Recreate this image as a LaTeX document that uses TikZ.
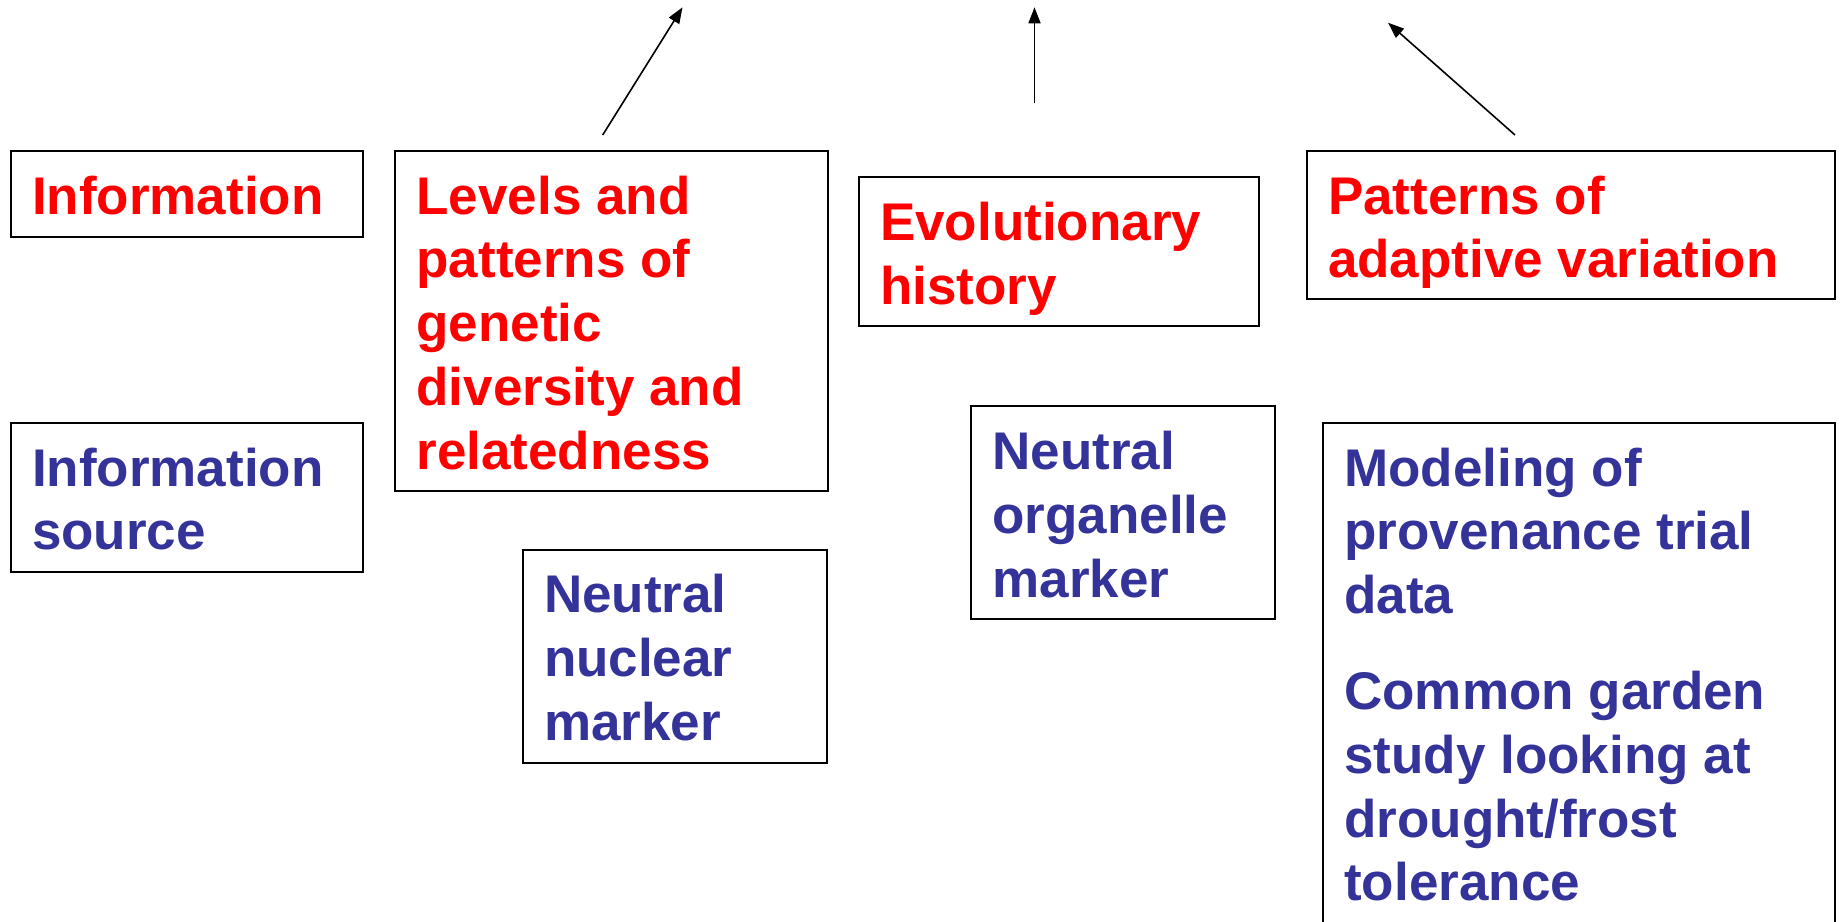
\documentclass[tikz,border=0pt]{standalone}
\usepackage{fontspec}
\setmainfont{Liberation Sans}
\usetikzlibrary{arrows.meta}
\definecolor{tred}{RGB}{255,0,0}
\definecolor{tblue}{RGB}{51,51,153}
\tikzset{
  box/.style={draw=black, line width=2pt, anchor=north west, inner sep=0pt, outer sep=0pt},
  txt/.style={anchor=north west, inner sep=0pt, outer sep=0pt, align=left, font=\fontsize{53}{63.8}\selectfont\bfseries},
  redtxt/.style={txt, text=tred},
  bluetxt/.style={txt, text=tblue},
  arr/.style={line width=1.6pt, -{Triangle[length=16pt,width=12pt]}}
}
\newcommand{\tstrut}{\rule{0pt}{40pt}}
\begin{document}
\begin{tikzpicture}[x=1pt,y=-1pt]
\useasboundingbox (0,0) rectangle (1841,921);
\fill[white] (0,0) rectangle (1841,921);
\clip (0,0) rectangle (1841,921);
% boxes
\node[box, minimum width=352.1pt, minimum height=86pt] (b1) at (10.6,150.7) {};
\node[box, minimum width=432.5pt, minimum height=340.1pt] (b2) at (395,150.7) {};
\node[box, minimum width=400.3pt, minimum height=149.1pt] (b3) at (858.6,177.3) {};
\node[box, minimum width=528pt, minimum height=148.7pt] (b4) at (1306.5,150.7) {};
\node[box, minimum width=352.1pt, minimum height=149.1pt] (b5) at (10.6,422.7) {};
\node[box, minimum width=304.1pt, minimum height=213.7pt] (b6) at (522.5,549.5) {};
\node[box, minimum width=304pt, minimum height=212.6pt] (b7) at (971,406.2) {};
\node[box, minimum width=512pt, minimum height=540pt] (b8) at (1322.8,422.7) {};
% texts
\node[redtxt] (t1) at (32.1,174) {\tstrut Information};
\node[redtxt] (t2) at (416.5,174) {\tstrut Levels and\\patterns of\\genetic\\diversity and\\relatedness};
\node[redtxt] (t3) at (880.1,200.6) {\tstrut Evolutionary\\history};
\node[redtxt] (t4) at (1328,174) {\tstrut Patterns of\\adaptive variation};
\node[bluetxt] (t5) at (32.1,446) {\tstrut Information\\source};
\node[bluetxt] (t6) at (544,572.8) {\tstrut Neutral\\nuclear\\marker};
\node[bluetxt] (t7) at (992.5,429.5) {\tstrut Neutral\\organelle\\marker};
\node[bluetxt] (t8) at (1344.3,446) {\tstrut Modeling of\\provenance trial\\data\\[32pt]Common garden\\study looking at\\drought/frost\\tolerance};
% arrows
\coordinate (a1s) at (602.7,135);
\coordinate (a1e) at (682.5,7.3);
\coordinate (a2s) at (1034.5,103.3);
\coordinate (a2e) at (1034.5,7.3);
\coordinate (a3s) at (1515,135);
\coordinate (a3e) at (1388,22.7);
\draw[arr] (a1s) -- (a1e);
\draw[arr] (a2s) -- (a2e);
\draw[arr] (a3s) -- (a3e);
\end{tikzpicture}
\end{document}
